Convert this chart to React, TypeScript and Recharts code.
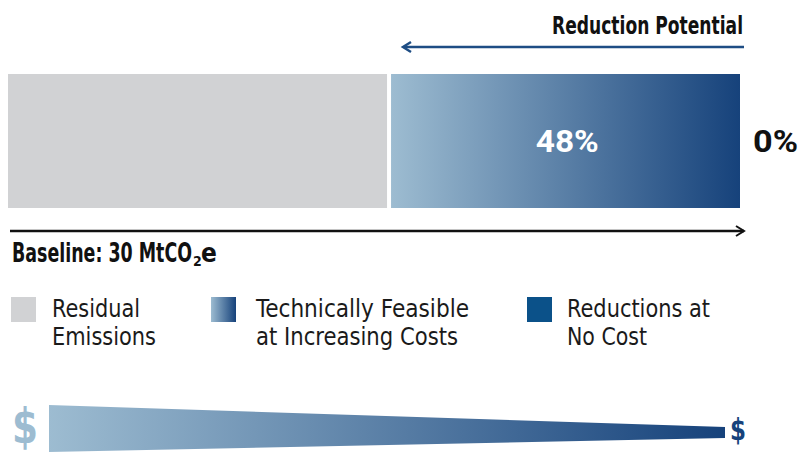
import { Bar, BarChart, LabelList, XAxis, YAxis } from 'recharts';

const categories = ['Baseline'];
const residual = [52];
const feasible = [48];
const noCost = [0];

const legendLabels = [
  ['Residual', 'Emissions'],
  ['Technically Feasible', 'at Increasing Costs'],
  ['Reductions at', 'No Cost'],
];
// measured widths of each legend line, used to mimic the condensed face
const legendWidths = [
  [88, 104],
  [213, 202],
  [143, 80],
];

const FONT = '"DejaVu Sans Condensed", "Liberation Sans Narrow", Arial, sans-serif';
const NUM_FONT = 'Roboto, "DejaVu Sans", Arial, sans-serif';
const GRAY = '#d1d2d4';
const LIGHT = '#9dbcd1';
const DARK = '#16427b';
const NAVY = '#0b5189';

const rows = categories.map((name, i) => ({
  name,
  residual: residual[i],
  feasible: feasible[i],
  noCost: noCost[i],
}));

const ResidualShape = (props: any) => {
  const { x, y, width, height } = props;
  return <rect x={x} y={y} width={Math.max(width - 1.6, 0)} height={height} fill={GRAY} />;
};

const FeasibleShape = (props: any) => {
  const { x, y, width, height } = props;
  return <rect x={x + 2.4} y={y} width={Math.max(width - 2.4, 0)} height={height} fill="url(#feasibleGrad)" />;
};

const PctInside = (props: any) => {
  const { x, y, width, height, value } = props;
  return (
    <text
      x={x + width / 2 + 3}
      y={y + height / 2 + 11}
      textAnchor="middle"
      fontFamily={NUM_FONT}
      fontWeight="bold"
      fontSize={31}
      fill="#fff"
      textLength={63}
      lengthAdjust="spacingAndGlyphs"
    >
      {`${value}%`}
    </text>
  );
};

// the no-cost share is zero wide, so its label hangs off the end of the stack
const PctOutside = (props: any) => {
  const { x, y, width, height, value } = props;
  return (
    <text
      x={x + width + 13}
      y={y + height / 2 + 11}
      fontFamily={NUM_FONT}
      fontWeight="bold"
      fontSize={31}
      fill="#111"
      textLength={45}
      lengthAdjust="spacingAndGlyphs"
    >
      {`${value}%`}
    </text>
  );
};

const App = () => {
  return (
    <div style={{ position: 'fixed', left: 0, top: 0, width: 800, height: 453, background: '#fff', fontFamily: FONT }}>
      <BarChart
        width={800}
        height={453}
        data={rows}
        layout="vertical"
        margin={{ top: 74, bottom: 245, left: 8, right: 60 }}
        barCategoryGap={0}
      >
        <defs>
          <linearGradient id="feasibleGrad" x1="0" y1="0" x2="1" y2="0">
            <stop offset="0%" stopColor={LIGHT} />
            <stop offset="100%" stopColor={DARK} />
          </linearGradient>
        </defs>
        <XAxis type="number" domain={[0, 100]} hide />
        <YAxis type="category" dataKey="name" hide />
        <Bar dataKey="residual" stackId="a" shape={ResidualShape} isAnimationActive={false} />
        <Bar dataKey="feasible" stackId="a" shape={FeasibleShape} isAnimationActive={false}>
          <LabelList dataKey="feasible" content={PctInside} />
          <LabelList dataKey="noCost" content={PctOutside} />
        </Bar>
        <Bar dataKey="noCost" stackId="a" fill={NAVY} isAnimationActive={false} />
      </BarChart>

      <svg width={800} height={453} style={{ position: 'absolute', left: 0, top: 0, pointerEvents: 'none' }}>
        <defs>
          <linearGradient id="wedgeGrad" x1="0" y1="0" x2="1" y2="0">
            <stop offset="0%" stopColor={LIGHT} />
            <stop offset="100%" stopColor={DARK} />
          </linearGradient>
          <linearGradient id="legendGrad" x1="0" y1="0" x2="1" y2="0">
            <stop offset="0%" stopColor={LIGHT} />
            <stop offset="100%" stopColor={DARK} />
          </linearGradient>
        </defs>

        {/* reduction potential arrow */}
        <text
          x={552}
          y={34}
          fontFamily={FONT}
          fontWeight="bold"
          fontSize={25}
          fill="#111"
          textLength={191}
          lengthAdjust="spacingAndGlyphs"
        >
          Reduction Potential
        </text>
        <line x1={404} y1={47} x2={744} y2={47} stroke="#1e4d84" strokeWidth={2.5} />
        <polyline points="411,42 403,47 411,52" fill="none" stroke="#1e4d84" strokeWidth={2.5} />

        {/* baseline arrow */}
        <line x1={10} y1={231} x2={744} y2={231} stroke="#111" strokeWidth={2.5} />
        <polyline points="736,226 744,231 736,236" fill="none" stroke="#111" strokeWidth={2} />
        <text x={12} y={262} fontFamily={FONT} fontWeight="bold" fontSize={26} fill="#111">
          <tspan x={12} textLength={180} lengthAdjust="spacingAndGlyphs">
            Baseline: 30 MtCO
          </tspan>
          <tspan x={193} dy={4} fontSize={14}>
            2
          </tspan>
          <tspan x={201} dy={-4}>
            e
          </tspan>
        </text>

        {/* legend */}
        {legendLabels.map((lines, i) => {
          const x = [11, 211, 527][i];
          const fill = [GRAY, 'url(#legendGrad)', NAVY][i];
          return (
            <g key={lines[0]}>
              <rect x={x} y={297} width={25} height={25} fill={fill} />
              {lines.map((ln, j) => (
                <text
                  key={ln}
                  x={x + [41, 45, 40][i]}
                  y={317 + j * 28}
                  fontFamily={FONT}
                  fontSize={24}
                  fill="#1a1a1a"
                  textLength={legendWidths[i][j]}
                  lengthAdjust="spacingAndGlyphs"
                >
                  {ln}
                </text>
              ))}
            </g>
          );
        })}

        {/* cost wedge */}
        <polygon points="49,405 725,427 725,438 49,452" fill="url(#wedgeGrad)" />
        <text x={12} y={443} fontFamily={FONT} fontWeight="bold" fontSize={48} fill={LIGHT} textLength={26} lengthAdjust="spacingAndGlyphs">
          $
        </text>
        <text x={730} y={440} fontFamily={FONT} fontWeight="bold" fontSize={30} fill={DARK} textLength={16} lengthAdjust="spacingAndGlyphs">
          $
        </text>
      </svg>
    </div>
  );
};

export default App;
